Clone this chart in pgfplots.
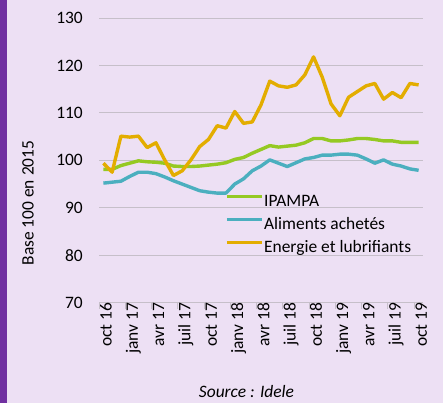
\documentclass[border=0pt]{standalone}
\usepackage{pgfplots}
\pgfplotsset{compat=1.18}
\usepackage{fontspec}
\setmainfont{Carlito}
\definecolor{bg}{HTML}{EDE0F4}
\definecolor{barp}{HTML}{7030A0}
\definecolor{gridc}{HTML}{C6BFC9}
\definecolor{cgreen}{HTML}{95C923}
\definecolor{cblue}{HTML}{4BAFBF}
\definecolor{corange}{HTML}{E3AD00}
\newcommand\xl[1]{\raisebox{-8.3bp}{#1}\hspace{7.3bp}}
\newcommand\fnt{\fontsize{17.5}{20}\selectfont}
\begin{document}
\begin{tikzpicture}[x=1bp,y=1bp]
\fill[bg] (0,0) rectangle (443,403);
\fill[barp] (0,0) rectangle (7,403);
\useasboundingbox (0,0) rectangle (443,403);
\begin{axis}[
  at={(99bp,100.3bp)}, anchor=south west,
  scale only axis, width=324bp, height=284.7bp,
  xmin=-0.5, xmax=36.5, ymin=70, ymax=130,
  ytick={70,80,...,130},
  ymajorgrids, grid style={color=gridc, line width=1bp},
  axis line style={draw=none},
  ytick style={draw=none},
  xtick={0,3,...,36},
  xticklabels={\xl{oct 16},\xl{janv 17},\xl{avr 17},\xl{juil 17},\xl{oct 17},\xl{janv 18},\xl{avr 18},\xl{juil 18},\xl{oct 18},\xl{janv 19},\xl{avr 19},\xl{juil 19},\xl{oct 19}},
  xtick style={draw=none},
  xticklabel style={rotate=90, anchor=base east, inner sep=0pt, font=\fnt},
  yticklabel style={anchor=east, inner sep=0pt, xshift=-16bp, font=\fnt},
  /pgf/number format/assume math mode=true,
  extra x ticks={-0.5,2.5,...,35.5},
  extra x tick labels={},
  extra x tick style={xtick style={draw=gridc, line width=1bp}, major tick length=6bp, tick align=outside},
  xtick pos=bottom,
  ylabel={Base 100 en 2015},
  ylabel style={at={(rel axis cs:-0.219,0.35)}, anchor=center, font=\fnt},
  legend style={at={(rel axis cs:0.389,0.384)}, anchor=north west, draw=none, fill=none, inner sep=0pt,
    font=\fnt, row sep=6bp, nodes={text height=12.5bp, text depth=3.5bp, inner sep=0.5bp}},
  legend cell align=left,
  legend image code/.code={\draw[#1] (0bp,5.5bp) -- (35bp,5.5bp);},
  every axis plot/.append style={line width=3.4bp, line join=round, no markers},
]
\addplot[cgreen] coordinates {
(0,98.1)(1,98.1)(2,98.9)(3,99.4)(4,99.9)(5,99.7)(6,99.6)(7,99.4)(8,98.8)(9,98.7)
(10,98.7)(11,98.8)(12,99.0)(13,99.2)(14,99.5)(15,100.2)(16,100.6)(17,101.5)(18,102.3)(19,103.1)
(20,102.8)(21,103.0)(22,103.2)(23,103.7)(24,104.6)(25,104.6)(26,104.1)(27,104.1)(28,104.3)(29,104.6)
(30,104.6)(31,104.4)(32,104.1)(33,104.1)(34,103.8)(35,103.8)(36,103.8)};
\addlegendentry{IPAMPA}
\addplot[cblue] coordinates {
(0,95.2)(1,95.4)(2,95.6)(3,96.6)(4,97.5)(5,97.5)(6,97.2)(7,96.5)(8,95.7)(9,95.0)
(10,94.3)(11,93.6)(12,93.3)(13,93.1)(14,93.1)(15,95.0)(16,96.1)(17,97.8)(18,98.8)(19,100.1)
(20,99.4)(21,98.7)(22,99.5)(23,100.3)(24,100.6)(25,101.1)(26,101.1)(27,101.3)(28,101.3)(29,101.1)
(30,100.3)(31,99.4)(32,100.1)(33,99.2)(34,98.8)(35,98.2)(36,97.9)};
\addlegendentry{Aliments achetés}
\addplot[corange] coordinates {
(0,99.4)(1,97.5)(2,105.1)(3,104.9)(4,105.1)(5,102.7)(6,103.7)(7,100.1)(8,96.8)(9,97.8)
(10,100.1)(11,102.9)(12,104.4)(13,107.3)(14,106.8)(15,110.3)(16,107.8)(17,108.1)(18,111.7)(19,116.7)
(20,115.7)(21,115.4)(22,115.9)(23,118.0)(24,121.8)(25,117.5)(26,111.9)(27,109.4)(28,113.3)(29,114.5)
(30,115.7)(31,116.2)(32,112.9)(33,114.3)(34,113.2)(35,116.2)(36,115.9)};
\addlegendentry{Energie et lubrifiants}
\end{axis}
\node[anchor=base, font=\fnt\itshape, inner sep=0pt] at (246.5,6) {Source : Idele};
\end{tikzpicture}
\end{document}
